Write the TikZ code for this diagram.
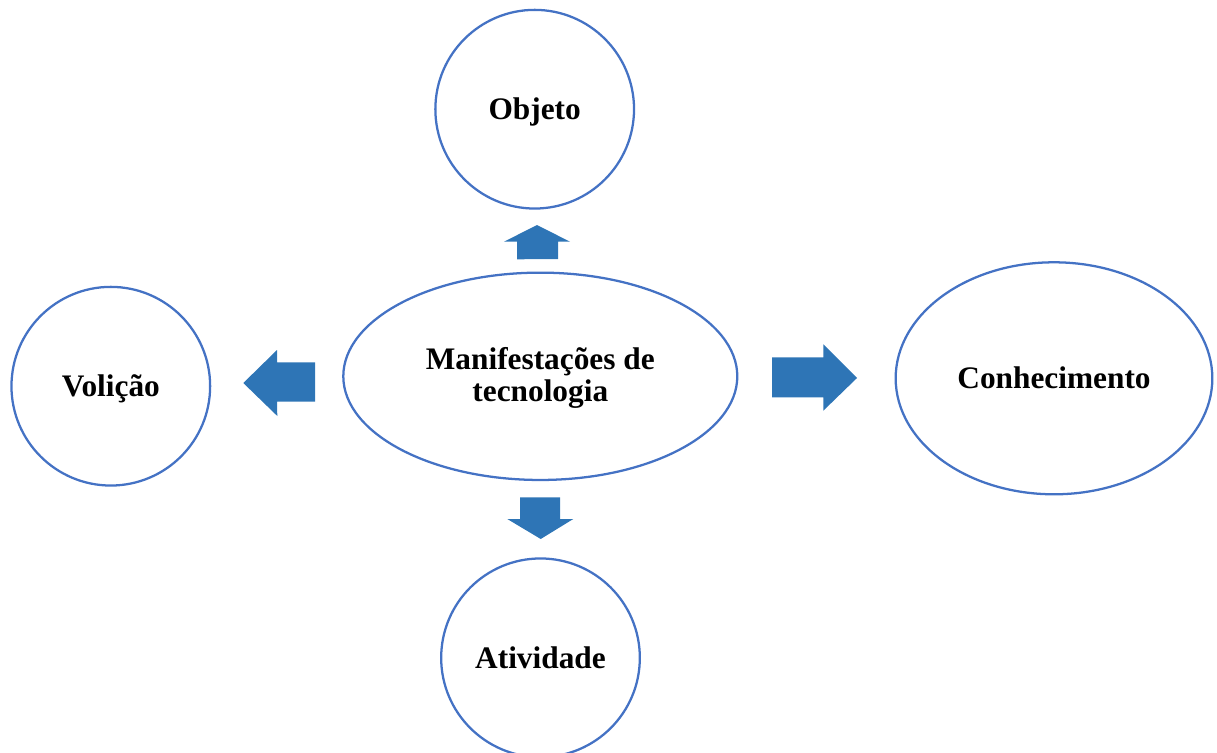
\documentclass[tikz,border=0pt]{standalone}
\usepackage{fontspec}
\setmainfont{Liberation Serif}
\usetikzlibrary{shapes.geometric}
\definecolor{ringblue}{HTML}{4472C4}
\definecolor{arrowblue}{HTML}{2E75B6}
\begin{document}
\begin{tikzpicture}[x=0.75pt,y=-0.75pt,
  labelfont/.style={font=\fontsize{23.5}{23.8}\selectfont\bfseries},
  ring/.style={draw=ringblue,line width=1.7pt,inner sep=0pt,labelfont,
    text height=15.5pt,text depth=0pt},
  roundring/.style={ring,circle,minimum size=149pt},
  blockarrow/.style={fill=arrowblue,draw=none}]
\useasboundingbox (0,0) rectangle (1217,753);
\node[roundring] (objeto) at (534.7,109.2) {Objeto};
\node[roundring] (volicao) at (110.8,386.2) {Volição};
\node[roundring] (atividade) at (540.5,657.8) {Atividade};
\node[ring,ellipse,minimum width=237.5pt,minimum height=174pt] (conhec) at (1054,378.3) {Conhecimento};
\node[ring,ellipse,minimum width=295.5pt,minimum height=155.5pt] (manif) at (540.3,376.3) {};
\node[labelfont,align=center,anchor=base,inner sep=0pt] (maniftext) at (540.3,401.7) {Manifestações de\\tecnologia};
% up arrow
\fill[blockarrow] (537,225) -- (570,241.7) -- (558,241.7) -- (558,259) -- (517,259.3) -- (517,241.7) -- (504,241.7) -- cycle;
% left arrow
\fill[blockarrow] (243.3,383) -- (277,350) -- (277,362.3) -- (315,362.3) -- (315,401.7) -- (277,401.7) -- (277.3,416) -- cycle;
% right arrow
\fill[blockarrow] (857,378) -- (823.3,344.3) -- (823.3,357.3) -- (772,357.3) -- (772,397.3) -- (823.3,397.3) -- (823.3,410.7) -- cycle;
% down arrow
\fill[blockarrow] (540.7,539) -- (507.3,519) -- (520,519) -- (520,497.3) -- (560,497.3) -- (560,519) -- (573.3,519) -- cycle;
\end{tikzpicture}
\end{document}
